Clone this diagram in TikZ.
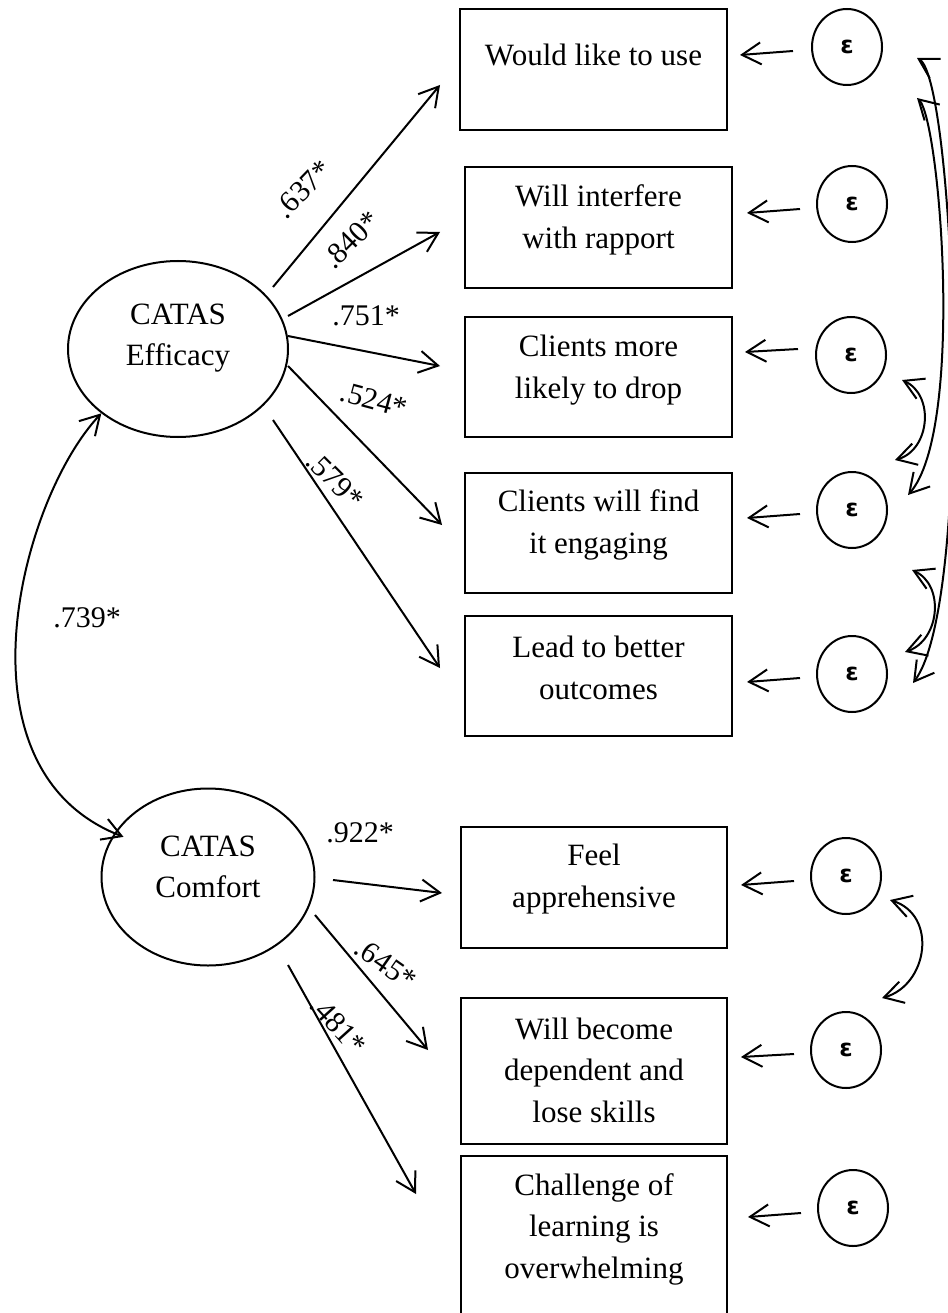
\documentclass[tikz,border=0pt]{standalone}
\usepackage{fontspec}
\setmainfont{Liberation Serif}
\newfontfamily\epsfam{DejaVu Sans}
\usetikzlibrary{shapes.geometric,arrows.meta}
\begin{document}
\begin{tikzpicture}[x=1pt,y=-1pt,
  barb/.tip={Straight Barb[length=19pt,width=22pt]},
  arr/.style={line width=2pt,-barb},
  dbl/.style={line width=2pt,barb-barb},
  box/.style={draw,line width=2.2pt,rectangle,inner sep=0pt},
  txt/.style={align=center,inner sep=0pt,font=\fontsize{31}{41.5}\selectfont},
  lat/.style={draw,line width=2pt,ellipse,inner sep=0pt},
  err/.style={draw,line width=2pt,ellipse,inner sep=0pt,minimum width=70pt,minimum height=76pt,font=\epsfam\bfseries\fontsize{24}{24}\selectfont},
  lab/.style={inner sep=0pt,font=\fontsize{30}{30}\selectfont}]
\fill[white] (0,0) rectangle (947,1313);
\useasboundingbox (0,0) rectangle (947,1313);

% observed indicator boxes
\node[box,minimum width=267pt,minimum height=121pt] (b1) at (593.5,69.5) {};
\node[box,minimum width=267pt,minimum height=121pt] (b2) at (598.5,227.5) {};
\node[box,minimum width=267pt,minimum height=120pt] (b3) at (598.5,377) {};
\node[box,minimum width=267pt,minimum height=120pt] (b4) at (598.5,533) {};
\node[box,minimum width=267pt,minimum height=120pt] (b5) at (598.5,676) {};
\node[box,minimum width=266pt,minimum height=121pt] (b6) at (594,887.5) {};
\node[box,minimum width=266pt,minimum height=146pt] (b7) at (594,1071) {};
\node[box,minimum width=266pt,minimum height=158pt] (b8) at (594,1235) {};

\node[txt] (t1) at (593.5,55) {Would like to use};
\node[txt] (t2) at (598.5,220) {Will interfere\\with rapport};
\node[txt] (t3) at (598.5,370) {Clients more\\likely to drop};
\node[txt] (t4) at (598.5,525) {Clients will find\\it engaging};
\node[txt] (t5) at (598.5,668) {Lead to better\\outcomes};
\node[txt] (t6) at (594,879) {Feel\\apprehensive};
\node[txt] (t7) at (594,1070) {Will become\\dependent and\\lose skills};
\node[txt] (t8) at (594,1229) {Challenge of\\learning is\\overwhelming};

% latent factors
\node[lat,minimum width=220pt,minimum height=176pt] (eff) at (178,349) {};
\node[txt] (efft) at (178,338) {CATAS\\Efficacy};
\node[lat,minimum width=213pt,minimum height=177pt] (com) at (208,877) {};
\node[txt] (comt) at (208,867) {CATAS\\Comfort};

% error terms
\node[err] (e1) at (847,47) {ε};
\node[err] (e2) at (852,204) {ε};
\node[err] (e3) at (851,355) {ε};
\node[err] (e4) at (852,510) {ε};
\node[err] (e5) at (852,674) {ε};
\node[err] (e6) at (846,876) {ε};
\node[err] (e7) at (846,1050) {ε};
\node[err] (e8) at (853,1208) {ε};

% loading arrow ends
\coordinate (p1s) at (273,287); \coordinate (p1e) at (440,85);
\coordinate (p2s) at (288,316); \coordinate (p2e) at (440,232);
\coordinate (p3s) at (288,336); \coordinate (p3e) at (440,366);
\coordinate (p4s) at (288,366); \coordinate (p4e) at (442,525);
\coordinate (p5s) at (273,420); \coordinate (p5e) at (440,668);
\coordinate (c1s) at (333,880); \coordinate (c1e) at (442,893);
\coordinate (c2s) at (315,915); \coordinate (c2e) at (428,1050);
\coordinate (c3s) at (288,965); \coordinate (c3e) at (416,1194);
\draw[arr] (p1s) -- (p1e);
\draw[arr] (p2s) -- (p2e);
\draw[arr] (p3s) -- (p3e);
\draw[arr] (p4s) -- (p4e);
\draw[arr] (p5s) -- (p5e);
\draw[arr] (c1s) -- (c1e);
\draw[arr] (c2s) -- (c2e);
\draw[arr] (c3s) -- (c3e);

% loading labels
\node[lab,rotate=46] (l1) at (303,189) {.637*};
\node[lab,rotate=45] (l2) at (351,240) {.840*};
\node[lab] (l3) at (366,316) {.751*};
\node[lab,rotate=-15] (l4) at (374,400) {.524*};
\node[lab,rotate=-45] (l5) at (335,480) {.579*};
\node[lab] (l6) at (87,618) {.739*};
\node[lab] (l7) at (360,833) {.922*};
\node[lab,rotate=-35] (l8) at (386,964) {.645*};
\node[lab,rotate=-48] (l9) at (338,1025) {.481*};

% error arrows
\coordinate (r1s) at (793,51);  \coordinate (r1e) at (740,55);
\coordinate (r2s) at (800,209); \coordinate (r2e) at (747,213);
\coordinate (r3s) at (798,349); \coordinate (r3e) at (745,352);
\coordinate (r4s) at (800,514); \coordinate (r4e) at (747,518);
\coordinate (r5s) at (800,678); \coordinate (r5e) at (747,682);
\coordinate (r6s) at (794,881); \coordinate (r6e) at (741,885);
\coordinate (r7s) at (794,1054); \coordinate (r7e) at (741,1057);
\coordinate (r8s) at (801,1213); \coordinate (r8e) at (748,1217);
\draw[arr] (r1s) -- (r1e);
\draw[arr] (r2s) -- (r2e);
\draw[arr] (r3s) -- (r3e);
\draw[arr] (r4s) -- (r4e);
\draw[arr] (r5s) -- (r5e);
\draw[arr] (r6s) -- (r6e);
\draw[arr] (r7s) -- (r7e);
\draw[arr] (r8s) -- (r8e);

% factor covariance
\draw[dbl,shorten >=-10pt] (eff.220) .. controls (20,500) and (-50,770) .. (com.155);

% error covariances
\coordinate (ka1) at (917,58);  \coordinate (ka2) at (913,683);
\coordinate (kb1) at (917,98);  \coordinate (kb2) at (908,495);
\coordinate (s11) at (902,380); \coordinate (s12) at (895,460);
\coordinate (s21) at (912,570); \coordinate (s22) at (905,652);
\coordinate (s31) at (890,900); \coordinate (s32) at (882,998);
\draw[dbl] (ka1) .. controls (955,80) and (975,600) .. (ka2);
\draw[dbl] (kb1) .. controls (940,120) and (965,430) .. (kb2);
\draw[dbl] (s11) .. controls (935,395) and (930,450) .. (s12);
\draw[dbl] (s21) .. controls (945,585) and (940,640) .. (s22);
\draw[dbl] (s31) .. controls (938,915) and (928,985) .. (s32);
\end{tikzpicture}
\end{document}
